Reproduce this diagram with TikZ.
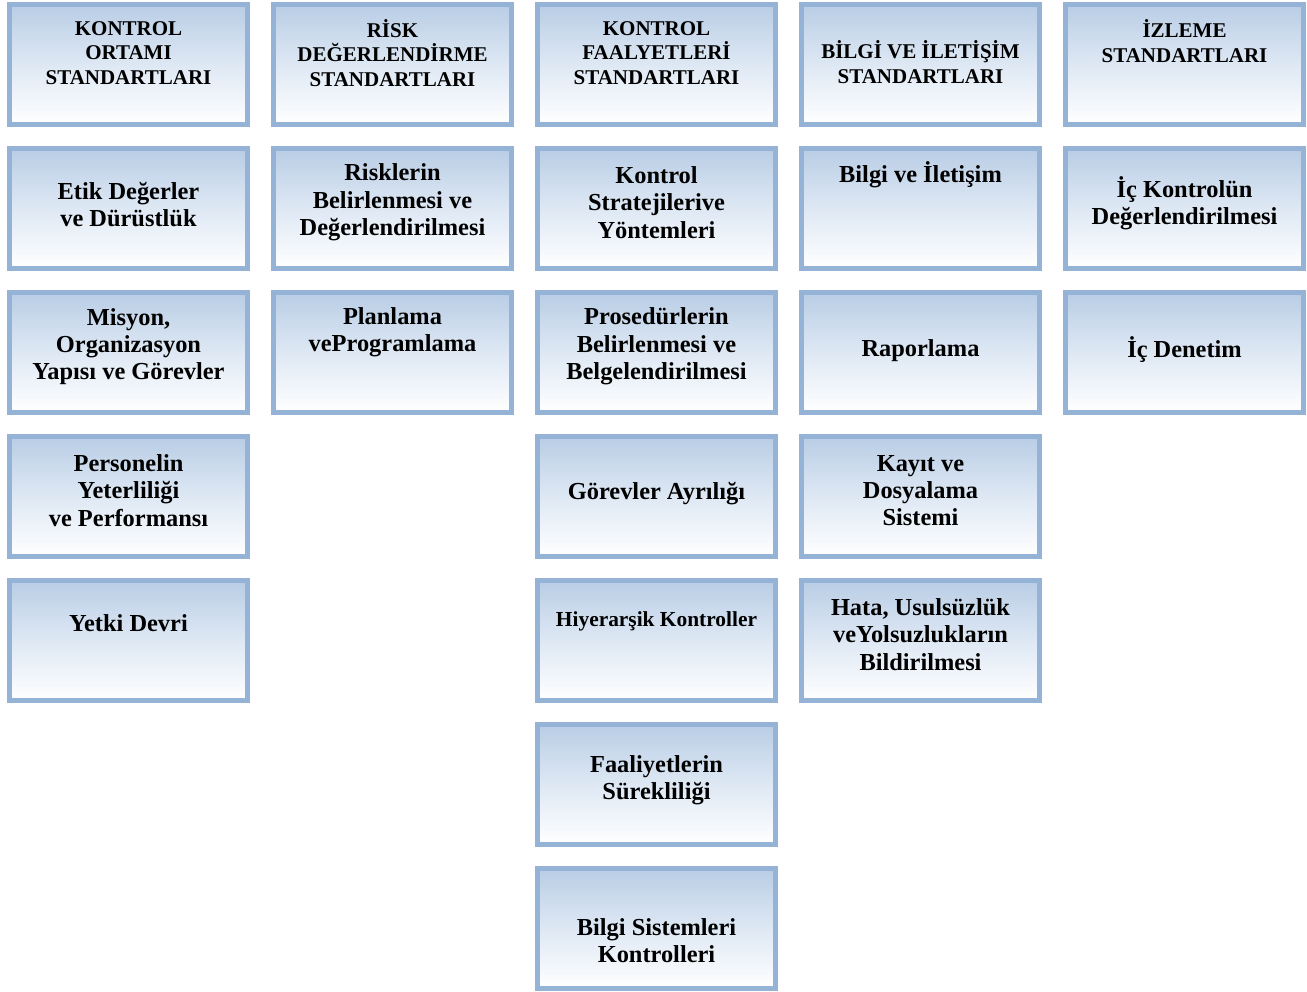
\documentclass[tikz,border=0pt]{standalone}
\usepackage{fontspec}
\setmainfont{Liberation Serif}
\definecolor{boxborder}{RGB}{149,179,215}
\definecolor{boxtop}{RGB}{185,205,229}
\definecolor{boxmid}{RGB}{222,232,244}
\tikzset{
  stdbox/.style={draw=boxborder, line width=5pt, rectangle, minimum width=238pt, minimum height=120pt, inner sep=0pt,
    top color=boxtop, bottom color=white, middle color=boxmid},
  hdrtext/.style={align=center, inner sep=0pt, font=\fontsize{21}{24.5}\selectfont\bfseries},
  bodytext/.style={align=center, inner sep=0pt, font=\fontsize{24.4}{27.3}\selectfont\bfseries},
  smalltext/.style={align=center, inner sep=0pt, font=\fontsize{21.4}{24}\selectfont\bfseries}
}
\newcommand{\mybox}[3]{\node[stdbox] (#3) at ({128.5+264*#1},{64.5+144*#2}) {};}
\begin{document}
\begin{tikzpicture}[x=1pt,y=-1pt]
\useasboundingbox (0,0) rectangle (1307,992);
% boxes
\mybox{0}{0}{b00}\mybox{1}{0}{b10}\mybox{2}{0}{b20}\mybox{3}{0}{b30}\mybox{4}{0}{b40}
\mybox{0}{1}{b01}\mybox{1}{1}{b11}\mybox{2}{1}{b21}\mybox{3}{1}{b31}\mybox{4}{1}{b41}
\mybox{0}{2}{b02}\mybox{1}{2}{b12}\mybox{2}{2}{b22}\mybox{3}{2}{b32}\mybox{4}{2}{b42}
\mybox{0}{3}{b03}\mybox{2}{3}{b23}\mybox{3}{3}{b33}
\mybox{0}{4}{b04}\mybox{2}{4}{b24}\mybox{3}{4}{b34}
\mybox{2}{5}{b25}
\mybox{2}{6}{b26}
% header texts
\node[hdrtext] (t00) at (128.5,53) {KONTROL\\ORTAMI\\STANDARTLARI};
\node[hdrtext] (t10) at (392.5,53) {RİSK\\DEĞERLENDİRME\\STANDARTLARI};
\node[hdrtext] (t20) at (656.5,53) {KONTROL\\FAALYETLERİ\\STANDARTLARI};
\node[hdrtext] (t30) at (920.5,62) {BİLGİ VE İLETİŞİM\\STANDARTLARI};
\node[hdrtext] (t40) at (1184.5,41) {İZLEME\\STANDARTLARI};
% row 1
\node[bodytext] (t01) at (128.5,204.5) {Etik Değerler\\ve Dürüstlük};
\node[bodytext] (t11) at (392.5,202.5) {Risklerin\\Belirlenmesi ve\\Değerlendirilmesi};
\node[bodytext] (t21) at (656.5,202.5) {Kontrol\\Stratejilerive\\Yöntemleri};
\node[bodytext] (t31) at (920.5,175) {Bilgi ve İletişim};
\node[bodytext] (t41) at (1184.5,203.5) {İç Kontrolün\\Değerlendirilmesi};
% row 2
\node[bodytext] (t02) at (128.5,346.5) {Misyon,\\Organizasyon\\Yapısı ve Görevler};
\node[bodytext] (t12) at (392.5,332.5) {Planlama\\veProgramlama};
\node[bodytext] (t22) at (656.5,346.5) {Prosedürlerin\\Belirlenmesi ve\\Belgelendirilmesi};
\node[bodytext] (t32) at (920.5,351) {Raporlama};
\node[bodytext] (t42) at (1184.5,350) {İç Denetim};
% row 3
\node[bodytext] (t03) at (128.5,490.5) {Personelin\\Yeterliliği\\ve Performansı};
\node[bodytext] (t23) at (656.5,494) {Görevler Ayrılığı};
\node[bodytext] (t33) at (920.5,490.5) {Kayıt ve\\Dosyalama\\Sistemi};
% row 4
\node[bodytext] (t04) at (128.5,623) {Yetki Devri};
\node[smalltext] (t24) at (656.5,621) {Hiyerarşik Kontroller};
\node[bodytext] (t34) at (920.5,634.5) {Hata, Usulsüzlük\\veYolsuzlukların\\Bildirilmesi};
% row 5, 6
\node[bodytext] (t25) at (656.5,780.5) {Faaliyetlerin\\Sürekliliği};
\node[bodytext] (t26) at (656.5,940.5) {Bilgi Sistemleri\\Kontrolleri};
\end{tikzpicture}
\end{document}
